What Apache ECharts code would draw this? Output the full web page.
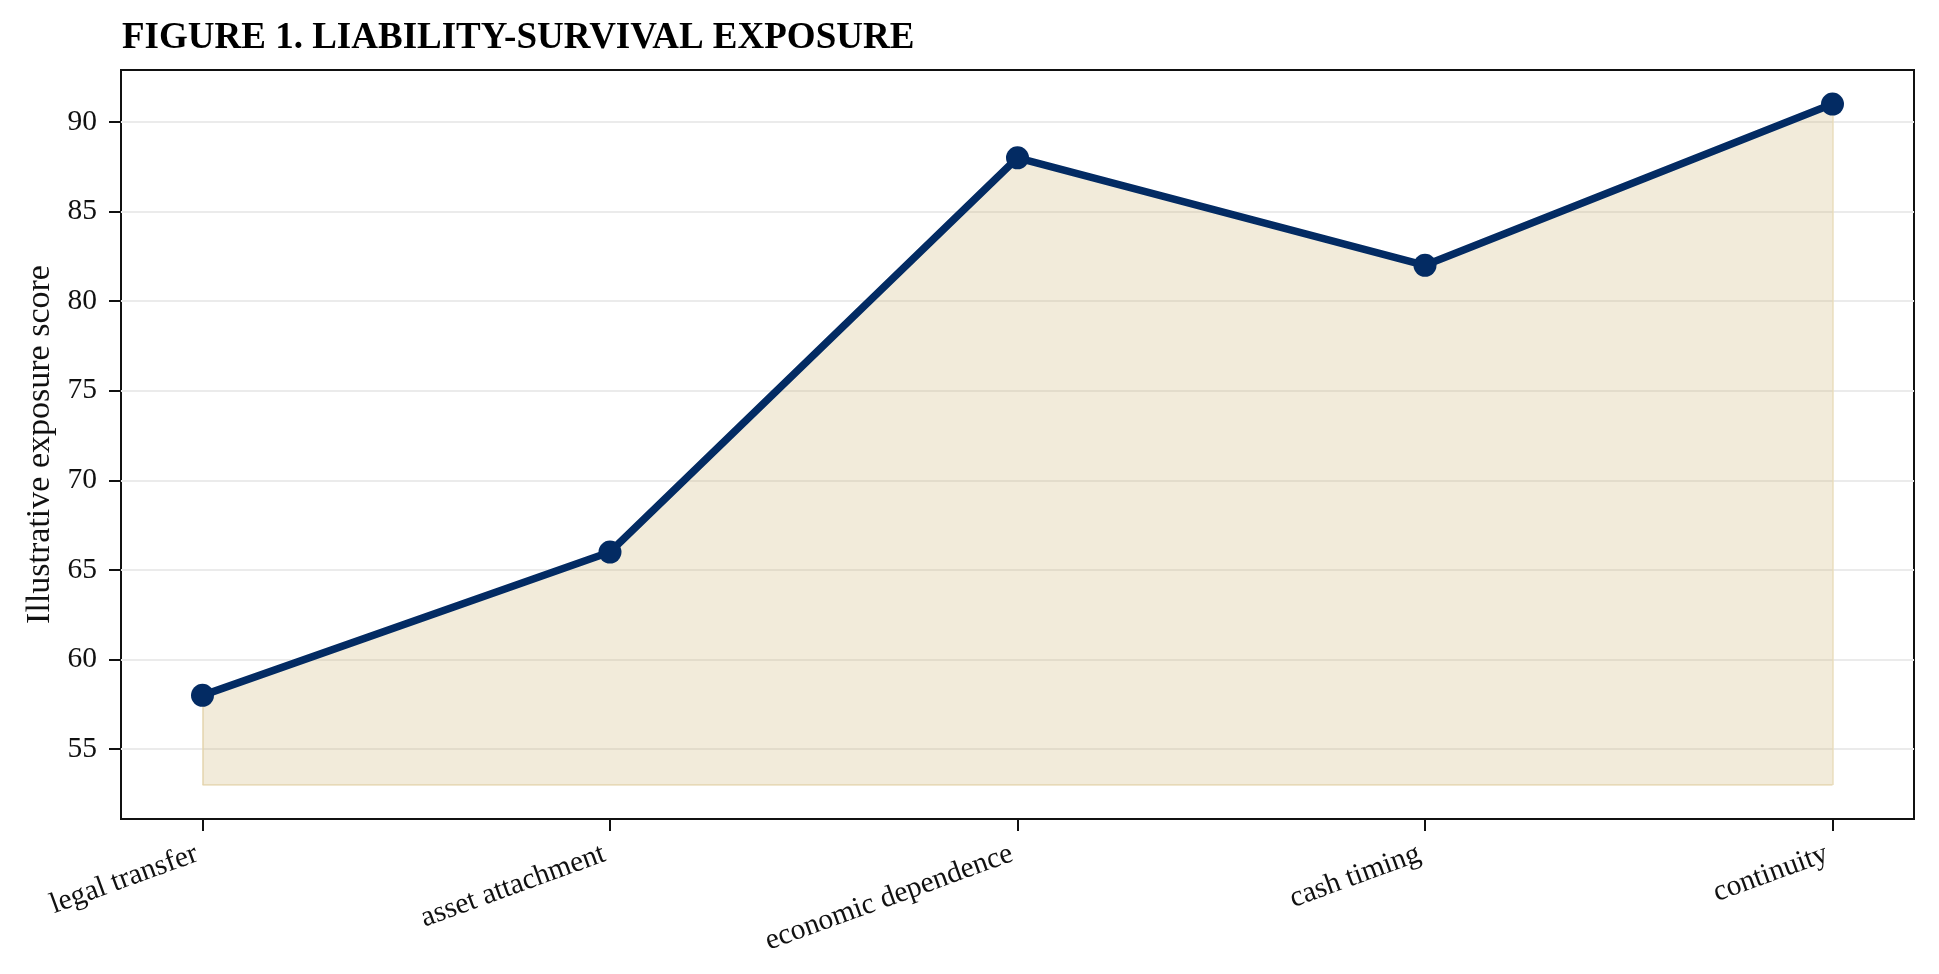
<!DOCTYPE html>
<html>
<head>
<meta charset="utf-8">
<title>Figure 1. Liability-survival exposure</title>
<script src="https://cdn.jsdelivr.net/npm/echarts@6/dist/echarts.min.js"></script>
<style>
  html, body { margin: 0; padding: 0; background: #fff; }
  #chart { width: 1939px; height: 974px; }
</style>
</head>
<body>
<div id="chart"></div>
<script>
// chart data
var categories = ['legal transfer', 'asset attachment', 'economic dependence', 'cash timing', 'continuity'];
var scores = [58, 66, 88, 82, 91];
var yTicks = [55, 60, 65, 70, 75, 80, 85, 90];
var fillBase = 53;

var serif = '"Liberation Serif", "Times New Roman", serif';
var navy = '#032b63';
var edge = '#ebdfc0';

var points = scores.map(function (v, i) { return [i, v]; });
var xIdx = categories.map(function (c, i) { return i; });
var last = scores.length - 1;

var chart = echarts.init(document.getElementById('chart'), null, { renderer: 'canvas' });

chart.setOption({
  animation: false,
  backgroundColor: '#fff',
  title: {
    text: 'FIGURE 1. LIABILITY-SURVIVAL EXPOSURE',
    left: 117,
    top: 15,
    textStyle: { fontFamily: serif, fontWeight: 'bold', fontSize: 37, color: '#000' }
  },
  grid: {
    left: 121, right: 25, top: 70, bottom: 155,
    show: true, borderColor: '#111', borderWidth: 2, backgroundColor: '#fff'
  },
  xAxis: {
    type: 'value',
    min: -0.2,
    max: 4.2,
    axisLine: { show: false, onZero: false },
    splitLine: { show: false },
    axisTick: { show: true, length: 12, customValues: xIdx, lineStyle: { color: '#111', width: 2 } },
    axisLabel: {
      customValues: xIdx,
      rotate: 20,
      margin: 32,
      padding: [0, 6, 0, 0],
      fontFamily: serif,
      fontSize: 29.5,
      color: '#111',
      formatter: function (v) { return categories[Math.round(v)]; }
    }
  },
  yAxis: {
    type: 'value',
    min: 51.1,
    max: 92.9,
    name: 'Illustrative exposure score',
    nameLocation: 'middle',
    nameRotate: 90,
    nameGap: 63,
    nameTextStyle: { fontFamily: serif, fontSize: 34, color: '#111' },
    axisLine: { show: false, onZero: false },
    axisTick: { show: true, length: 12, customValues: yTicks, lineStyle: { color: '#111', width: 2 } },
    axisLabel: { customValues: yTicks, margin: 24, fontFamily: serif, fontSize: 29.5, color: '#111' },
    splitLine: { show: true, lineStyle: { color: '#ebebeb', width: 2 } }
  },
  series: [{
    type: 'line',
    data: points,
    symbol: 'circle',
    symbolSize: 23,
    z: 3,
    lineStyle: { color: navy, width: 7.5 },
    itemStyle: { color: navy },
    areaStyle: { origin: fillBase, color: 'rgba(203,175,107,0.25)', opacity: 1 },
    markLine: {
      silent: true,
      symbol: 'none',
      label: { show: false },
      z: 1,
      lineStyle: { color: edge, width: 1.5, type: 'solid' },
      data: [
        [{ coord: [0, fillBase] }, { coord: [last, fillBase] }],
        [{ coord: [0, fillBase] }, { coord: [0, scores[0]] }],
        [{ coord: [last, fillBase] }, { coord: [last, scores[last]] }]
      ]
    }
  }]
});
</script>
</body>
</html>
